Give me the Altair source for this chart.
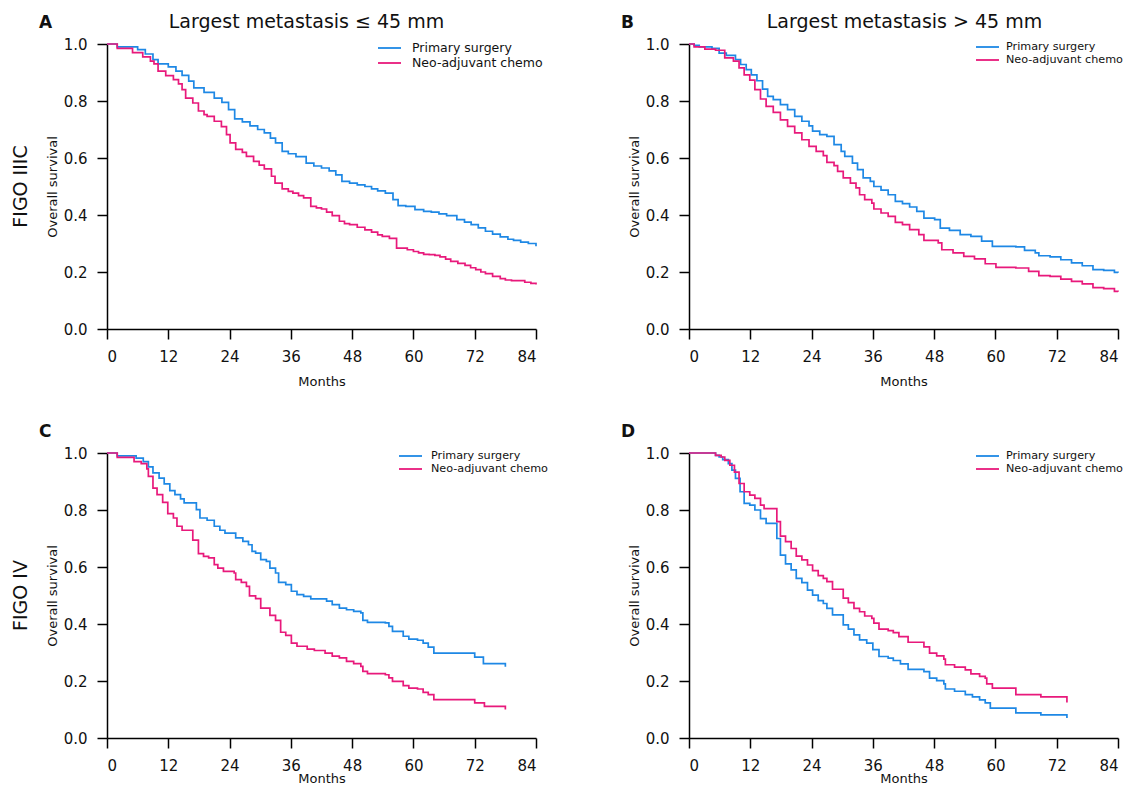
import altair as alt
import pandas as pd

FONT = "DejaVu Sans"
MONTH_TICKS = [0, 12, 24, 36, 48, 60, 72, 84]
SURV_TICKS = [0.0, 0.2, 0.4, 0.6, 0.8, 1.0]
GROUPS = ["Primary surgery", "Neo-adjuvant chemo"]
COLORS = ["#1e88e5", "#e8197b"]
PANEL_LETTERS = ["A", "B", "C", "D"]
COL_TITLES = ["Largest metastasis \u2264 45 mm", "Largest metastasis > 45 mm"]
ROW_TITLES = ["FIGO IIIC", "FIGO IV"]

# (month, survival) step points
A_PRIMARY = [(0, 1.0), (2, 0.99), (6, 0.98), (7.5, 0.965), (9, 0.945), (10, 0.93), (12, 0.92), (13.5, 0.905),
             (14.7, 0.89), (16, 0.87), (17, 0.846), (19, 0.83), (21, 0.81), (22.5, 0.795), (23.8, 0.77),
             (25, 0.737), (26.5, 0.727), (28, 0.713), (29.5, 0.70), (30.8, 0.688), (32, 0.67), (33, 0.653),
             (34.3, 0.623), (35.5, 0.615), (37, 0.605), (39, 0.582), (40.5, 0.572), (42, 0.565), (43.5, 0.555),
             (44.8, 0.541), (46, 0.518), (47.5, 0.512), (49, 0.506), (50.5, 0.5), (51.8, 0.492), (53, 0.485),
             (54.5, 0.477), (56, 0.454), (57, 0.433), (58.5, 0.43), (60.3, 0.419), (62, 0.413), (63.5, 0.41),
             (65, 0.404), (66.5, 0.398), (68.5, 0.384), (70, 0.375), (71.3, 0.366), (72.7, 0.355), (74.1, 0.343),
             (75.5, 0.333), (77, 0.323), (78.5, 0.315), (79.6, 0.311), (81, 0.305), (82.5, 0.3), (84, 0.29)]
A_NEO = [(0, 1.0), (2, 0.985), (5, 0.97), (7, 0.955), (8.5, 0.94), (9.2, 0.93), (10, 0.905), (11.5, 0.889),
         (13, 0.875), (14, 0.86), (14.7, 0.84), (15.4, 0.81), (16.8, 0.793), (17.9, 0.765), (19, 0.752),
         (19.6, 0.746), (21, 0.729), (22.4, 0.71), (23.4, 0.682), (24.1, 0.653), (25.2, 0.63), (26.5, 0.62),
         (27.3, 0.606), (28.7, 0.588), (29.8, 0.575), (30.8, 0.562), (32.2, 0.536), (32.9, 0.512), (34.3, 0.492),
         (35.5, 0.483), (36.4, 0.477), (37.5, 0.468), (38.5, 0.46), (39.9, 0.43), (41, 0.425), (42, 0.421),
         (43, 0.41), (44.1, 0.398), (45.5, 0.378), (46.5, 0.37), (47.5, 0.366), (49, 0.357), (50.5, 0.348),
         (51.8, 0.34), (53, 0.33), (53.9, 0.325), (55.3, 0.318), (56.7, 0.284), (58.8, 0.278), (60, 0.272),
         (61, 0.267), (62, 0.262), (63.1, 0.261), (64.2, 0.258), (65.2, 0.253), (66.3, 0.245), (67.3, 0.237),
         (68.7, 0.23), (70.1, 0.223), (71.2, 0.215), (72.2, 0.208), (73.2, 0.2), (74.1, 0.194), (75.5, 0.185),
         (77, 0.177), (78, 0.172), (79.2, 0.17), (81.8, 0.164), (83, 0.16), (84, 0.156)]
B_PRIMARY = [(0, 1.0), (1, 0.995), (2, 0.99), (4.5, 0.985), (5.9, 0.968), (7.3, 0.96), (9.1, 0.945), (10.1, 0.928),
             (11.2, 0.91), (12.2, 0.892), (13.3, 0.871), (14.4, 0.842), (15.4, 0.816), (16.5, 0.805), (17.9, 0.787),
             (19.3, 0.77), (20.7, 0.746), (22.1, 0.729), (23.5, 0.713), (24.2, 0.694), (25.6, 0.682), (27, 0.676),
             (28.4, 0.647), (29.8, 0.623), (30.5, 0.606), (32, 0.582), (33, 0.559), (34.1, 0.53), (35.5, 0.518),
             (36.2, 0.5), (37.6, 0.487), (39, 0.471), (40.4, 0.448), (41.8, 0.44), (43.2, 0.428), (44.6, 0.413),
             (46, 0.389), (48.1, 0.384), (49.2, 0.354), (51, 0.346), (53.1, 0.331), (55.2, 0.325), (57.3, 0.308),
             (59.4, 0.29), (64, 0.288), (65.7, 0.276), (67.8, 0.267), (68.5, 0.257), (70.7, 0.253), (72.8, 0.243),
             (74.9, 0.232), (77, 0.222), (79.1, 0.208), (81.2, 0.206), (83.3, 0.199), (84, 0.197)]
B_NEO = [(0, 1.0), (1, 0.99), (3.1, 0.982), (5.2, 0.978), (7, 0.951), (8.7, 0.94), (9.8, 0.916), (10.8, 0.892),
         (11.9, 0.873), (12.9, 0.84), (14, 0.807), (15.1, 0.781), (16.5, 0.76), (17.9, 0.734), (19.3, 0.711),
         (20.7, 0.688), (22.1, 0.664), (23.5, 0.641), (24.9, 0.623), (26.3, 0.608), (27, 0.585), (28.4, 0.573),
         (29.1, 0.553), (30.2, 0.53), (31.6, 0.512), (32.7, 0.495), (33.4, 0.471), (34.4, 0.454), (35.8, 0.442),
         (36.2, 0.421), (37.6, 0.407), (39, 0.395), (40.4, 0.374), (41.8, 0.366), (43.2, 0.349), (45, 0.331),
         (46, 0.311), (48.8, 0.302), (49.5, 0.278), (51.7, 0.267), (53.8, 0.255), (55.9, 0.246), (58, 0.229),
         (60.1, 0.216), (64, 0.214), (66.5, 0.202), (68.5, 0.187), (70.7, 0.185), (72.8, 0.175), (74.9, 0.167),
         (77, 0.158), (79.1, 0.145), (81.2, 0.142), (83.3, 0.132), (84, 0.131)]
C_PRIMARY = [(0, 1.0), (2, 0.99), (5.7, 0.982), (7.1, 0.97), (8.1, 0.951), (9, 0.93), (10.2, 0.912), (11.2, 0.892),
             (12.3, 0.868), (13.3, 0.854), (14.4, 0.839), (15.1, 0.825), (17.5, 0.801), (18.2, 0.772), (19.6, 0.764),
             (21, 0.743), (22.1, 0.729), (23.1, 0.719), (25.2, 0.702), (26.6, 0.69), (27.7, 0.678), (28.4, 0.655),
             (29.1, 0.649), (30.1, 0.626), (31.2, 0.62), (31.9, 0.596), (33, 0.579), (33.6, 0.546), (35, 0.538),
             (36.1, 0.515), (37.2, 0.503), (38.5, 0.497), (39.9, 0.488), (43, 0.48), (44.1, 0.468), (45.5, 0.456),
             (46.9, 0.45), (48.3, 0.444), (49.7, 0.439), (50.1, 0.413), (51, 0.406), (54.5, 0.404), (55.2, 0.392),
             (55.9, 0.374), (58, 0.357), (59.1, 0.347), (60.8, 0.343), (61.9, 0.333), (62.9, 0.319), (64, 0.298),
             (72, 0.284), (73.7, 0.261), (78, 0.261), (78, 0.25)]
C_NEO = [(0, 1.0), (2, 0.985), (5.3, 0.97), (6.7, 0.963), (7.8, 0.944), (8.1, 0.918), (9, 0.877), (9.8, 0.854),
         (10.9, 0.827), (11.9, 0.787), (13, 0.772), (13.7, 0.743), (14.7, 0.729), (16.8, 0.694), (17.9, 0.647),
         (18.9, 0.637), (19.9, 0.632), (21, 0.608), (21.7, 0.596), (22.8, 0.585), (24.9, 0.579), (25.2, 0.556),
         (26.3, 0.546), (27.3, 0.532), (27.9, 0.499), (29.1, 0.489), (30.1, 0.456), (31.9, 0.43), (33, 0.413),
         (34, 0.371), (35, 0.36), (36.1, 0.333), (37.2, 0.322), (39.2, 0.312), (40.6, 0.307), (42.7, 0.298),
         (44.1, 0.287), (45.5, 0.281), (46.9, 0.269), (48.3, 0.261), (49.7, 0.251), (50.1, 0.234), (51, 0.226),
         (54.5, 0.222), (55.2, 0.211), (55.9, 0.199), (58, 0.184), (59.1, 0.175), (60.8, 0.172), (61.9, 0.16),
         (62.9, 0.152), (64, 0.135), (72, 0.123), (73.9, 0.111), (78, 0.109), (78, 0.1)]
D_PRIMARY = [(0, 1.0), (5.2, 0.992), (5.9, 0.986), (6.6, 0.977), (7.7, 0.963), (8.4, 0.94), (9.1, 0.911), (10, 0.864),
             (10.8, 0.823), (11.9, 0.817), (12.9, 0.8), (14, 0.77), (15.1, 0.753), (17.2, 0.7), (17.9, 0.642),
             (18.9, 0.611), (20, 0.59), (21, 0.56), (22.1, 0.545), (23.2, 0.519), (24.2, 0.501), (25.3, 0.482),
             (26.3, 0.472), (27, 0.455), (28.1, 0.432), (30.2, 0.397), (31.2, 0.382), (32.3, 0.362), (33.4, 0.344),
             (34.8, 0.333), (36, 0.31), (37.2, 0.286), (39, 0.28), (40, 0.272), (41.4, 0.26), (42.9, 0.241),
             (46, 0.233), (47.1, 0.21), (48.5, 0.201), (49.9, 0.19), (50.2, 0.172), (52, 0.164), (54.1, 0.152),
             (55.5, 0.144), (56.9, 0.134), (58, 0.123), (59, 0.105), (64, 0.088), (68.9, 0.081), (74, 0.081),
             (74, 0.07)]
D_NEO = [(0, 1.0), (5.2, 0.992), (6.3, 0.986), (7, 0.974), (8, 0.957), (8.9, 0.933), (9.8, 0.893), (10.8, 0.864),
         (11.9, 0.852), (12.9, 0.841), (14, 0.817), (14.7, 0.805), (17.2, 0.759), (17.9, 0.708), (18.9, 0.689),
         (20, 0.665), (21, 0.638), (22.1, 0.625), (23.2, 0.607), (24.2, 0.587), (25.3, 0.57), (26.3, 0.56),
         (27, 0.549), (28.1, 0.522), (30.2, 0.491), (31.2, 0.475), (32.3, 0.455), (33.4, 0.443), (34.4, 0.428),
         (35.8, 0.42), (36.2, 0.403), (37.2, 0.382), (39, 0.377), (40, 0.37), (41.1, 0.356), (42.9, 0.336),
         (46, 0.32), (47.1, 0.298), (48.5, 0.288), (49.9, 0.277), (50.2, 0.257), (52, 0.249), (54.1, 0.239),
         (55.2, 0.225), (56.9, 0.216), (58, 0.21), (58.3, 0.19), (59.4, 0.175), (64, 0.152), (68.9, 0.144),
         (74, 0.144), (74, 0.125)]

SERIES = {"A": (A_PRIMARY, A_NEO), "B": (B_PRIMARY, B_NEO), "C": (C_PRIMARY, C_NEO), "D": (D_PRIMARY, D_NEO)}

W, H = 429, 285


def one(text):
    return pd.DataFrame({"t": [text]})


def panel(letter, col_title, title_dx, row_title, legend_x, legend_ys, legend_font, text_dx, months_y):
    rows = []
    for g, pts in zip(GROUPS, SERIES[letter]):
        for i, (t, s) in enumerate(pts):
            rows.append({"month": t, "surv": s, "group": g, "idx": i})
    df = pd.DataFrame(rows)

    x = alt.X("month:Q", scale=alt.Scale(domain=[0, 84], nice=False, zero=False),
              axis=alt.Axis(values=MONTH_TICKS, format="d", title="Months",
                            titleX=W / 2, titleY=months_y, titleAlign="center", titleBaseline="middle"))
    y = alt.Y("surv:Q", scale=alt.Scale(domain=[0, 1], nice=False),
              axis=alt.Axis(values=SURV_TICKS, format=".1f", title="Overall survival",
                            titleX=-55, titleY=H / 2, titleAngle=270, titleAlign="center",
                            titleBaseline="middle"))
    lines = alt.Chart(df).mark_line(interpolate="step-after", strokeWidth=1.7).encode(
        x=x, y=y,
        color=alt.Color("group:N", scale=alt.Scale(domain=GROUPS, range=COLORS), legend=None),
        order=alt.Order("idx:Q"),
        detail="group:N",
    )
    layers = [lines]
    if col_title:
        layers.append(alt.Chart(one(col_title)).mark_text(
            font=FONT, fontSize=19, align="center", baseline="alphabetic", color="#111").encode(
            text="t:N", x=alt.value(W / 2 + title_dx), y=alt.value(-16)))
    layers.append(alt.Chart(one(letter)).mark_text(
        font=FONT, fontSize=17, fontWeight="bold", align="left", baseline="alphabetic", color="#111").encode(
        text="t:N", x=alt.value(-68), y=alt.value(-16.5)))
    if row_title:
        layers.append(alt.Chart(one(row_title)).mark_text(
            font=FONT, fontSize=19, align="center", baseline="middle", angle=270, color="#111").encode(
            text="t:N", x=alt.value(-86), y=alt.value(H / 2)))
    for g, c, ly in zip(GROUPS, COLORS, legend_ys):
        layers.append(alt.Chart(one(g)).mark_rule(strokeWidth=1.8, color=c).encode(
            x=alt.value(legend_x), x2=alt.value(legend_x + 23), y=alt.value(ly)))
        layers.append(alt.Chart(one(g)).mark_text(
            font=FONT, fontSize=legend_font, align="left", baseline="middle", color="#111").encode(
            text="t:N", x=alt.value(legend_x + text_dx), y=alt.value(ly)))
    return alt.layer(*layers).properties(width=W, height=H)


pA = panel("A", COL_TITLES[0], -15, ROW_TITLES[0], 271, (4, 19), 12.5, 34, 52)
pB = panel("B", COL_TITLES[1], 1, None, 287, (3, 16), 11.2, 30, 52)
pC = panel("C", None, 0, ROW_TITLES[1], 292, (3, 16), 11.2, 32, 40)
pD = panel("D", None, 0, None, 287, (3, 16), 11.2, 30, 40)

chart = alt.concat(pA, pB, pC, pD, columns=2, spacing={"row": 124, "column": 153}, bounds="flush").properties(
    padding={"left": 4, "top": 5, "right": 0, "bottom": 0}, background="white"
).configure_view(stroke=None).configure_axis(
    grid=False, domainColor="#000", domainWidth=1.5, tickColor="#000", tickWidth=1.5, tickSize=10,
    labelFont=FONT, labelFontSize=15, labelColor="#111", labelPadding=10,
    titleFont=FONT, titleFontSize=13, titleFontWeight="normal", titleColor="#111",
)

chart.save("out.html", embed_options={"renderer": "svg", "actions": False})
